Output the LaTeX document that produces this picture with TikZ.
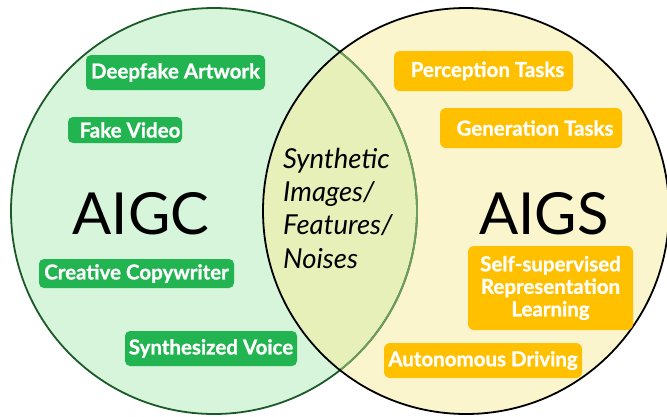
\documentclass[tikz,border=0pt]{standalone}
\usepackage{fontspec}
\setmainfont{Lato}
\definecolor{lgreen}{HTML}{D6F5DA}
\definecolor{lyellow}{HTML}{FAF5CC}
\definecolor{lens}{HTML}{E6F0B8}
\definecolor{dgreen}{HTML}{1B5A28}
\definecolor{mgreen}{HTML}{6E9E5E}
\definecolor{gbox}{HTML}{22B450}
\definecolor{ybox}{HTML}{FFC000}
\newfontfamily\tagfont[BoldFeatures={FakeBold=1}]{Lato}
\tikzset{
  gtag/.style={fill=gbox, rounded corners=5pt, text=white, inner sep=0pt,
    font=\tagfont\bfseries\fontsize{20.5}{22}\selectfont, align=center},
  ytag/.style={fill=ybox, rounded corners=6pt, text=white, inner sep=0pt,
    font=\tagfont\bfseries\fontsize{20.5}{22.5}\selectfont, align=center},
  big/.style={font=\fontsize{58}{60}\selectfont, inner sep=0pt, anchor=base},
  lensline/.style={font=\itshape\fontsize{27.5}{30}\selectfont, inner sep=0pt, anchor=base west}
}
\begin{document}
\begin{tikzpicture}[x=1pt,y=-1pt]
\useasboundingbox (0,0) rectangle (667,416);
\begin{scope}
\clip (0,0) rectangle (667,416);
\fill[lgreen] (214,211) circle (203);
\fill[lyellow] (466,211) circle (203);
\begin{scope}
  \clip (214,211) circle (203);
  \fill[lens] (466,211) circle (203);
\end{scope}
\draw[dgreen, line width=1.8pt] (214,211) circle (203);
\begin{scope}
  \clip (466,211) circle (203);
  \draw[mgreen, line width=1.8pt] (214,211) circle (203);
\end{scope}
\draw[black, line width=1.8pt] (466,211) circle (203);
\end{scope}

\node[big] (aigc) at (141,234) {AIGC};
\node[big] (aigs) at (544,234) {AIGS};

\node[lensline] (l1) at (283,168) {Synthetic};
\node[lensline] (l2) at (283,201) {Images/};
\node[lensline] (l3) at (283,234) {Features/};
\node[lensline] (l4) at (283,268) {Noises};

\node[gtag, minimum width=179, minimum height=35] (deep) at (175.5,72.5) {Deepfake Artwork};
\node[gtag, minimum width=114, minimum height=26] (fake) at (125,130) {\hspace{10pt}Fake Video};
\node[gtag, minimum width=195, minimum height=29] (copy) at (136.5,273.5) {Creative Copywriter};
\node[gtag, minimum width=172, minimum height=35] (voice) at (211,348.5) {Synthesized Voice};

\node[ytag, minimum width=179, minimum height=40] (perc) at (483.5,71) {\hspace{8pt}Perception Tasks};
\node[ytag, minimum width=182, minimum height=40] (gen) at (531,128) {\hspace{8pt}Generation Tasks};
\node[ytag, minimum width=165, minimum height=84] (self) at (550.5,288) {Self-supervised\\Representation\\Learning};
\node[ytag, minimum width=198, minimum height=35] (auto) at (483,360.5) {Autonomous Driving};
\end{tikzpicture}
\end{document}
